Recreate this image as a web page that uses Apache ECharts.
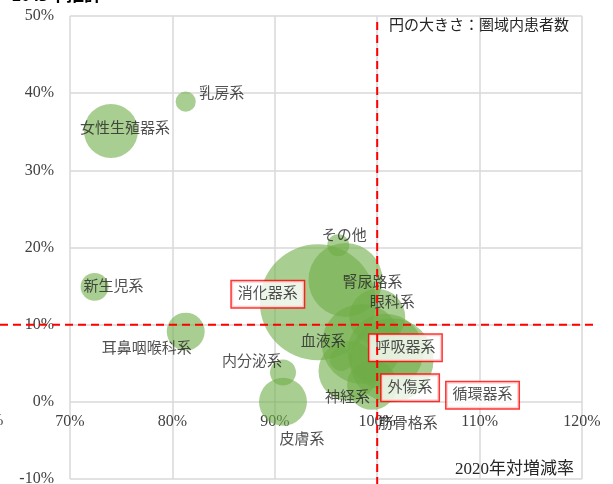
<!DOCTYPE html>
<html>
<head>
<meta charset="utf-8">
<script src="https://cdn.jsdelivr.net/npm/echarts@6/dist/echarts.min.js"></script>
<style>
html, body { margin: 0; padding: 0; background: #fff; }
#main { width: 613px; height: 484px; }
</style>
</head>
<body>
<div id="main"></div>
<script>
// 診療科（疾病分類）ごとのバブル
var names = ['乳房系', '女性生殖器系', '新生児系', '耳鼻咽喉科系', '消化器系', 'その他', '腎尿路系', '眼科系',
             '血液系', '呼吸器系', '内分泌系', '神経系', '外傷系', '循環器系', '筋骨格系', '皮膚系'];
// 2020年対増減率 (x)
var rate2020 = [0.813, 0.740, 0.724, 0.813, 0.942, 0.962, 0.969, 1.000,
                0.965, 1.008, 0.908, 0.972, 0.995, 1.014, 0.985, 0.908];
// 推計の増減率 (y)
var rateFuture = [0.389, 0.351, 0.149, 0.091, 0.129, 0.203, 0.158, 0.110,
                  0.055, 0.065, 0.038, 0.040, 0.022, 0.054, 0.075, 0.000];
// 圏域内患者数（円の大きさ）
var patients = [30, 217, 58, 107, 1000, 36, 407, 233,
                40, 429, 50, 268, 186, 524, 476, 171];
var xTicks = [0.7, 0.8, 0.9, 1.0, 1.1, 1.2];
var yTicks = [-0.1, 0, 0.1, 0.2, 0.3, 0.4, 0.5];

// ラベル位置の調整（円の中心からのずれ, px）
var labelShift = [[36, -8], [14, -2], [19, 0], [-39, 17], [-50, -8], [6, -9], [27, 3], [15, -14],
                  [-18, -17], [20, -4], [-31, -10], [-1, 27], [38, 3], [91, 35], [46, 80], [19, 38]];
var boxed = ['消化器系', '呼吸器系', '外傷系', '循環器系'];

var serif = '"Liberation Serif", "Noto Sans CJK JP", serif';
var maxP = Math.max.apply(null, patients);

var bubbles = [];
for (var i = 0; i < names.length; i++) {
    var lb = {
        show: true,
        position: 'inside',
        formatter: names[i],
        color: '#262626',
        fontSize: 15,
        fontFamily: serif
    };
    if (boxed.indexOf(names[i]) >= 0) {
        lb.backgroundColor = '#fff';
        lb.borderColor = '#ff0000';
        lb.borderWidth = 1.5;
        lb.padding = [6, 6, 5, 6];
    }
    bubbles.push({ value: [rate2020[i], rateFuture[i], patients[i]], name: names[i], label: lb });
}

var chart = echarts.init(document.getElementById('main'));
var pct = function (v) { return Math.round(v * 100) + '%'; };

var option = {
    animation: false,
    grid: { left: 70, right: 31, top: 16, bottom: 5, containLabel: false, outerBoundsMode: 'none' },
    xAxis: {
        type: 'value', min: xTicks[0], max: xTicks[xTicks.length - 1], interval: 0.1,
        position: 'bottom',
        // 横軸は0%の位置で交差（プロット高さの1/6だけ上へ）
        offset: -(484 - 16 - 5) / 6,
        axisLine: { show: false, onZero: false },
        axisTick: { show: false },
        axisLabel: { formatter: pct, color: '#404040', fontSize: 16, fontFamily: serif, margin: 12 },
        splitLine: { lineStyle: { color: '#d9d9d9', width: 1.5 } }
    },
    yAxis: {
        type: 'value', min: yTicks[0], max: yTicks[yTicks.length - 1], interval: 0.1,
        axisLine: { show: false },
        axisTick: { show: false },
        axisLabel: { formatter: pct, color: '#404040', fontSize: 16, fontFamily: serif, margin: 16 },
        splitLine: { lineStyle: { color: '#d9d9d9', width: 1.5 } }
    },
    series: [{
        type: 'scatter',
        data: bubbles,
        clip: false,
        symbolSize: function (d) { return 2 * 58 * Math.sqrt(d[2] / maxP); },
        itemStyle: { color: 'rgba(112,173,71,0.75)' },
        labelLayout: function (params) {
            var s = labelShift[params.dataIndex];
            return { dx: s[0], dy: s[1], hideOverlap: false };
        }
    }]
};
chart.setOption(option);

// 基準線（赤破線）: 増減率10%と2020年対100%
var yLine = chart.convertToPixel({ gridIndex: 0 }, [0.7, 0.1])[1];
var xLine = chart.convertToPixel({ gridIndex: 0 }, [1.0, 0.5])[0];
var yTop = chart.convertToPixel({ gridIndex: 0 }, [1.0, 0.5])[1];
var dash = { stroke: '#ff0000', lineWidth: 2, lineDash: [8, 5] };

chart.setOption({
    graphic: [
        { type: 'line', shape: { x1: 0, y1: yLine, x2: 596, y2: yLine }, style: dash, z: 50 },
        { type: 'line', shape: { x1: xLine, y1: yTop + 6, x2: xLine, y2: 484 }, style: dash, z: 50 },
        { type: 'text', left: 12, top: -13, style: { text: '2045年推計', font: 'bold 18px ' + serif, fill: '#000' } },
        { type: 'text', left: 389, top: 19, style: { text: '円の大きさ：圏域内患者数', font: '15px ' + serif, fill: '#262626' } },
        { type: 'text', left: 455, top: 461, style: { text: '2020年対増減率', font: '17px ' + serif, fill: '#262626' } },
        { type: 'text', left: -26, top: 413, style: { text: '60%', font: '16px ' + serif, fill: '#404040' } }
    ]
});
</script>
</body>
</html>
